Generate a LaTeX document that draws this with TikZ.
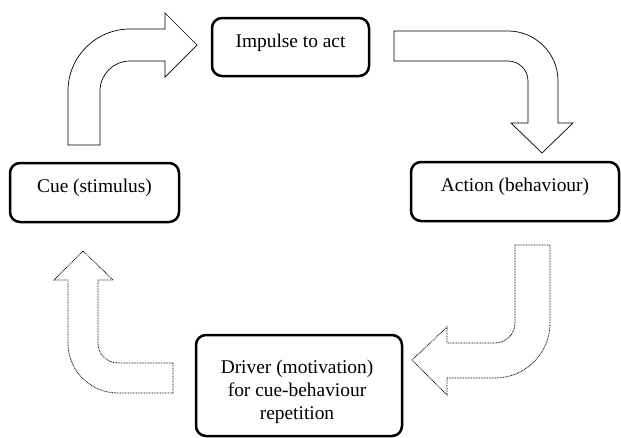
\documentclass[tikz,border=0pt]{standalone}
\usepackage{fontspec}
\setmainfont{Liberation Serif}
\usepackage{tikz}

\begin{document}
\begin{tikzpicture}[x=1pt, y=-1pt,
  stagebox/.style={draw, line width=2.5pt, rounded corners=10pt, inner sep=0pt,
    font=\fontsize{19.4}{23}\selectfont, text height=13pt, text depth=13pt},
  solidarrow/.style={draw, line width=0.7pt, line join=miter},
  dotarrow/.style={draw, line width=0.8pt, dash pattern=on 0.8pt off 0.8pt, line join=miter}]
\useasboundingbox (0,0) rectangle (621,437);

\draw (290.5,47) node[stagebox, minimum width=157pt, minimum height=58pt] (impulse) {Impulse to act} ;

\draw (94.5,192.5) node[stagebox, minimum width=169pt, minimum height=59pt] (cue) {Cue (stimulus)} ;
\draw (515,191.5) node[stagebox, minimum width=208pt, minimum height=59pt] (action) {Action (behaviour)} ;

\draw (299,385.5) node[stagebox, minimum width=206pt, minimum height=101pt] (driver) {} ;
\draw (driver.center) ++(-2,6.5) node[inner sep=0pt, align=center,
  font=\fontsize{19.4}{23}\selectfont] (drivertext)
  {Driver (motivation)\\for cue-behaviour\\repetition} ;

\path[solidarrow] (68,145) -- (68,91) arc[start angle=180, end angle=270, radius=62]
  -- (165,29) -- (165,13) -- (197,45) -- (165,77) -- (165,61) -- (130,61)
  arc[start angle=270, end angle=180, radius=30] -- (100,145) -- cycle ;

\path[solidarrow] (394,31) -- (508,31) arc[start angle=270, end angle=360, radius=50]
  -- (558,123) -- (573,123) -- (542,153) -- (511,123) -- (528,123) -- (528,81)
  arc[start angle=0, end angle=-90, radius=20] -- (394,61) -- cycle ;

\path[dotarrow] (515,245) -- (550,245) -- (550,323) arc[start angle=0, end angle=90, radius=55]
  -- (447,378) -- (447,395) -- (412,360) -- (447,327) -- (447,343) -- (495,343)
  arc[start angle=90, end angle=0, radius=20] -- cycle ;

\path[dotarrow] (173,363) -- (118,363) arc[start angle=90, end angle=180, radius=20]
  -- (98,280) -- (113,280) -- (83,251) -- (54,280) -- (68,280) -- (68,343)
  arc[start angle=180, end angle=90, radius=50] -- (173,393) -- cycle ;
\end{tikzpicture}
\end{document}
